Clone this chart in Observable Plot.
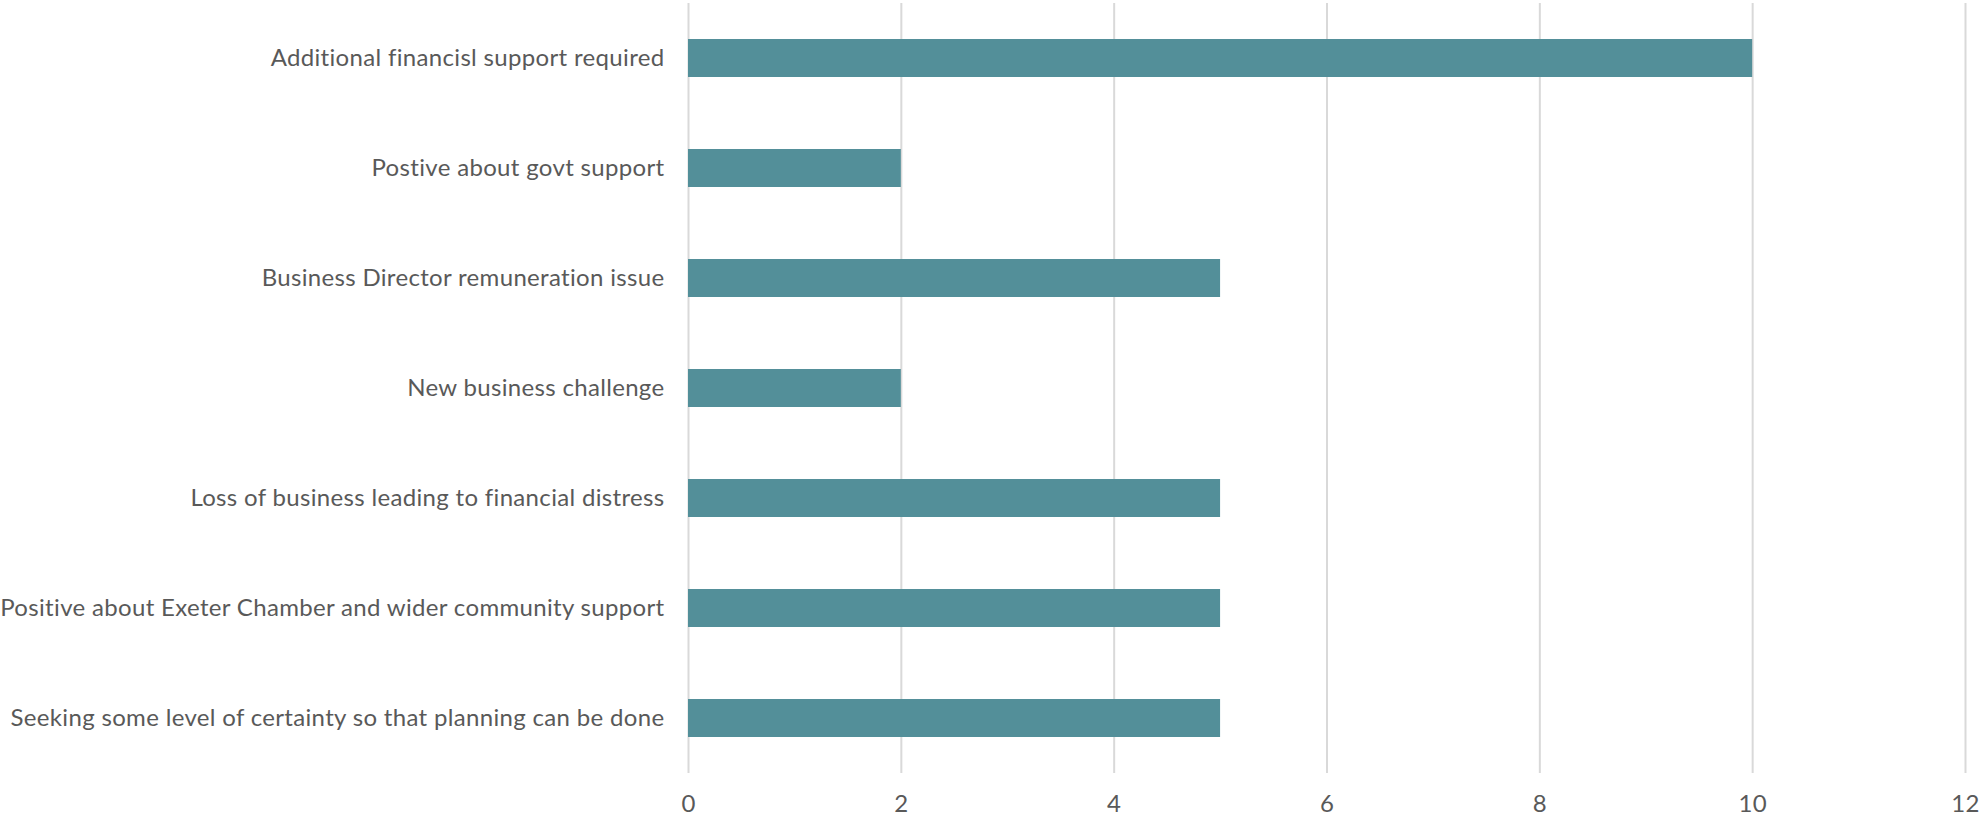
<!DOCTYPE html>
<html>
<head>
<meta charset="utf-8">
<script src="https://cdn.jsdelivr.net/npm/d3@7"></script>
<script src="https://cdn.jsdelivr.net/npm/@observablehq/plot@0.6"></script>
<style>
  html, body { margin: 0; padding: 0; background: #fff; }
  #chart svg { display: block; }
</style>
</head>
<body>
<div id="chart"></div>
<script>
const categories = [
  "Additional financisl support required",
  "Postive about govt support",
  "Business Director remuneration issue",
  "New business challenge",
  "Loss of business leading to financial distress",
  "Positive about Exeter Chamber and wider community support",
  "Seeking some level of certainty so that planning can be done"
];
const values = [10, 2, 5, 2, 5, 5, 5];
const xTicks = [0, 2, 4, 6, 8, 10, 12];

const data = categories.map((c, i) => ({category: c, value: values[i]}));

const chart = Plot.plot({
  width: 1982,
  height: 818,
  marginTop: 3,
  marginBottom: 45,
  marginLeft: 688,
  marginRight: 17,
  style: {fontFamily: "Lato, 'Open Sans', sans-serif", fontSize: "24px", letterSpacing: "0.33px", color: "#595959", background: "#fff"},
  x: {domain: [0, 12], ticks: xTicks, tickSize: 0, tickPadding: 21, label: null},
  y: {domain: categories, paddingInner: 0.652, paddingOuter: 0.326, tickSize: 0, tickPadding: 24, label: null},
  marks: [
    Plot.ruleX(xTicks, {stroke: "#d9d9d9", strokeWidth: 2}),
    Plot.barX(data, {x: "value", y: "category", fill: "#538f99"})
  ]
});
document.getElementById("chart").appendChild(chart);
</script>
</body>
</html>
